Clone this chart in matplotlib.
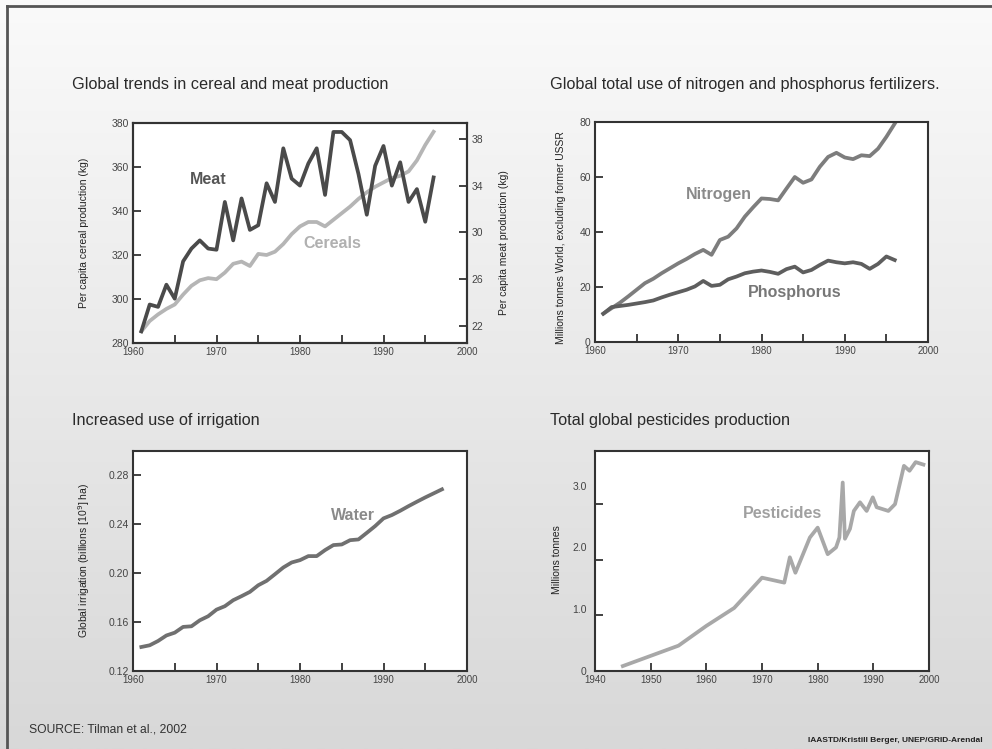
import numpy as np
import matplotlib
matplotlib.use('Agg')
from matplotlib import pyplot as plt
from matplotlib.colors import LinearSegmentedColormap
from matplotlib.lines import Line2D
from matplotlib.ticker import MultipleLocator, FixedLocator, FixedFormatter

plt.rcParams['font.family'] = ['Liberation Sans', 'DejaVu Sans']

# ----- data ----- #
years_food = list(range(1961, 1997))
cereals = [285.3, 290, 293, 295.5, 297.5, 302, 306, 308.5, 309.5, 309, 312, 316, 317, 315,
           320.5, 320, 321.5, 325, 329.5, 333, 335, 335, 333, 336, 339, 342, 345.5, 348.5,
           351, 353, 355, 356, 358, 363, 370, 376]
meat = [21.5, 23.8, 23.6, 25.5, 24.3, 27.5, 28.6, 29.3, 28.6, 28.5, 32.6, 29.3, 32.9, 30.2,
        30.6, 34.2, 32.6, 37.2, 34.6, 34.0, 35.9, 37.2, 33.2, 38.6, 38.6, 37.9, 35.0, 31.5,
        35.7, 37.4, 34.0, 36.0, 32.6, 33.7, 30.9, 34.7]

years_fert = list(range(1961, 1997))
nitrogen = [10.3, 12.3, 14.3, 16.6, 19, 21.4, 23, 25, 26.8, 28.6, 30.2, 32, 33.5, 31.7,
            37.1, 38.3, 41.3, 45.6, 49, 52.2, 52, 51.5, 55.8, 60, 57.9, 59.1, 63.7, 67.3,
            68.8, 67.1, 66.5, 67.9, 67.6, 70.3, 74.6, 79.4]
phosphorus = [10.3, 12.7, 13.1, 13.5, 14, 14.5, 15.1, 16.2, 17.2, 18.1, 19, 20.2, 22.2, 20.4,
              20.8, 22.8, 23.8, 25, 25.6, 26, 25.5, 24.8, 26.5, 27.4, 25.3, 26.2, 28, 29.6,
              29, 28.6, 29, 28.4, 26.6, 28.4, 31.1, 29.8]

years_water = list(range(1961, 1998))
water = [0.1396, 0.141, 0.1445, 0.149, 0.1513, 0.156, 0.1565, 0.1614, 0.1647, 0.1701,
         0.1729, 0.1778, 0.1811, 0.1846, 0.19, 0.1936, 0.199, 0.2045, 0.2086, 0.2105,
         0.2138, 0.2138, 0.2187, 0.2228, 0.2233, 0.2268, 0.2274, 0.2328, 0.2383, 0.2446,
         0.2473, 0.2508, 0.2546, 0.2582, 0.2617, 0.265, 0.2683]

years_pest = [1945, 1955, 1960, 1965, 1970, 1974, 1975, 1976, 1978.6, 1980, 1981.8, 1983.3,
              1983.9, 1984.5, 1984.9, 1985.8, 1986.5, 1987.6, 1988.8, 1989.9, 1990.6, 1992.7,
              1993.9, 1995.5, 1996.5, 1997.6, 1999]
pesticides = [0.08, 0.41, 0.73, 1.02, 1.51, 1.43, 1.84, 1.59, 2.16, 2.32, 1.89, 2.0,
              2.16, 3.05, 2.14, 2.30, 2.59, 2.73, 2.59, 2.81, 2.65, 2.59, 2.70, 3.32, 3.24,
              3.38, 3.34]

titles = ['Global trends in cereal and meat production',
          'Global total use of nitrogen and phosphorus fertilizers.',
          'Increased use of irrigation',
          'Total global pesticides production']
water_ticks = [0.12, 0.16, 0.20, 0.24, 0.28]
water_labels = ['0.12', '0.16', '0.20', '0.24', '0.28']
pest_ticks = [0, 1, 2, 3]
pest_labels = ['0', '1.0', '2.0', '3.0']

W, H = 992, 749
def px(x, y):
    return x / W, 1 - y / H

def box(l, t, r, b):
    return [l / W, 1 - b / H, (r - l) / W, (b - t) / H]

fig = plt.figure(figsize=(W / 100, H / 100), dpi=100)

# background gradient
bg = fig.add_axes([0, 0, 1, 1], zorder=-10)
cmap = LinearSegmentedColormap.from_list('bg', ['#d8d8d8', '#fafafa'])
bg.imshow(np.linspace(0, 1, 256).reshape(-1, 1), cmap=cmap, aspect='auto',
          origin='lower', extent=[0, 1, 0, 1])
bg.set_axis_off()
fig.add_artist(Line2D([7 / W, 7 / W], [0, 1 - 6 / H], color='#555555', lw=2))
fig.add_artist(Line2D([7 / W, 1], [1 - 6 / H, 1 - 6 / H], color='#555555', lw=2))

def style(ax):
    for s in ax.spines.values():
        s.set_linewidth(1.5)
        s.set_color('#333333')
    ax.tick_params(which='both', direction='in', length=6, width=1.3,
                   colors='#333333', labelcolor='#444444', pad=3)
    ax.tick_params(axis='x', labelsize=7)
    ax.tick_params(axis='y', labelsize=7.5)
    ax.set_facecolor('white')

txt = dict(fontsize=11.5, weight='bold', ha='center', va='center')
ylab = dict(fontsize=7.5, rotation=90, ha='center', va='center', color='#222222')

# ----- cereals / meat ----- #
ax1 = fig.add_axes(box(133, 123, 467, 343))
ax1b = ax1.twinx()
ax1.plot(years_food, cereals, color='#b5b5b5', lw=2.7, zorder=2)
ax1b.plot(years_food, meat, color='#4a4a4a', lw=2.7)
ax1.set_xlim(1960, 2000)
ax1.set_ylim(280, 380)
ax1b.set_ylim(20.5, 39.37)
ax1.xaxis.set_major_locator(MultipleLocator(10))
ax1.xaxis.set_minor_locator(MultipleLocator(5))
ax1.yaxis.set_major_locator(MultipleLocator(20))
ax1b.yaxis.set_major_locator(FixedLocator([22, 26, 30, 34, 38]))
style(ax1)
style(ax1b)
fig.text(*px(208, 180), 'Meat', color='#555555', **txt)
fig.text(*px(332, 243), 'Cereals', color='#b0b0b0', **txt)
fig.text(*px(84, 233), 'Per capita cereal production (kg)', **ylab)
fig.text(*px(504, 243), 'Per capita meat production (kg)', **ylab)

# ----- fertilizers ----- #
ax2 = fig.add_axes(box(595, 122, 928, 342))
ax2.plot(years_fert, nitrogen, color='#7d7d7d', lw=2.7)
ax2.plot(years_fert, phosphorus, color='#5e5e5e', lw=2.7)
ax2.set_xlim(1960, 2000)
ax2.set_ylim(0, 80)
ax2.xaxis.set_major_locator(MultipleLocator(10))
ax2.xaxis.set_minor_locator(MultipleLocator(5))
ax2.yaxis.set_major_locator(MultipleLocator(20))
style(ax2)
fig.text(*px(719, 195), 'Nitrogen', color='#8a8a8a', **txt)
fig.text(*px(795, 292), 'Phosphorus', color='#777777', **txt)
fig.text(*px(561, 238), 'Millions tonnes World, excluding former USSR', **ylab)

# ----- irrigation ----- #
ax3 = fig.add_axes(box(133, 451, 467, 671))
ax3.plot(years_water, water, color='#707070', lw=2.7)
ax3.set_xlim(1960, 2000)
ax3.set_ylim(0.12, 0.2996)
ax3.xaxis.set_major_locator(MultipleLocator(10))
ax3.xaxis.set_minor_locator(MultipleLocator(5))
ax3.yaxis.set_major_locator(FixedLocator(water_ticks))
ax3.yaxis.set_major_formatter(FixedFormatter(water_labels))
style(ax3)
fig.text(*px(353, 515), 'Water', color='#8a8a8a', **txt)
fig.text(*px(84, 560), 'Global irrigation (billions [10$^9$] ha)', **ylab)

# ----- pesticides ----- #
ax4 = fig.add_axes(box(595, 451, 929, 671))
ax4.plot(years_pest, pesticides, color='#a8a8a8', lw=2.7)
ax4.set_xlim(1940, 2000)
ax4.set_ylim(0, 3.56)
ax4.xaxis.set_major_locator(MultipleLocator(10))
ax4.yaxis.set_major_locator(FixedLocator(pest_ticks))
ax4.yaxis.set_major_formatter(FixedFormatter(pest_labels))
ax4.yaxis.set_minor_locator(MultipleLocator(0.9))
style(ax4)
ax4.tick_params(axis='y', which='major', length=0, pad=6)
fig.text(*px(782, 513), 'Pesticides', color='#a0a0a0', **txt)
fig.text(*px(557, 560), 'Millions tonnes', **ylab)

# titles and credits
for (x, y), t in zip([(72, 85), (550, 85), (72, 421), (550, 421)], titles):
    fig.text(*px(x, y), t, fontsize=11.7, color='#2a2a2a', ha='left', va='center')
fig.text(*px(29, 730), 'SOURCE: Tilman et al., 2002', fontsize=8.7, color='#333333',
         ha='left', va='center')
fig.text(*px(983, 741), 'IAASTD/Kristill Berger, UNEP/GRID-Arendal', fontsize=6,
         weight='bold', color='#222222', ha='right', va='center')

fig.savefig('out.png', dpi=100)
